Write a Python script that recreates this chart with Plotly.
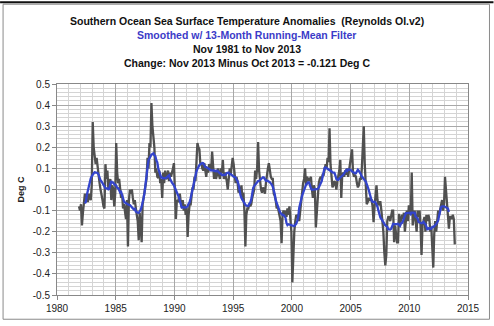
import numpy as np
import pandas as pd
import plotly.graph_objects as go

# Monthly Southern Ocean SST anomalies (deg C), Nov 1981 .. Nov 2013
sst_1981_1989 = [
    -0.08, -0.10,                                                                 # 1981 Nov-Dec
    -0.07, -0.17, -0.11, -0.06, -0.02, -0.05, -0.03, -0.06, -0.02, -0.04, -0.05, 0.02,   # 1982
    0.32, 0.20, 0.15, 0.12, 0.15, 0.10, 0.08, 0.03, 0.00, -0.02, -0.05, -0.08,     # 1983
    -0.09, 0.12, 0.05, 0.09, 0.00, 0.03, 0.05, -0.05, 0.02, 0.00, -0.08, -0.02,    # 1984
    0.22, 0.08, 0.03, 0.05, 0.00, -0.04, -0.02, -0.09, -0.07, -0.10, -0.14, -0.05, # 1985
    -0.27, -0.05, 0.00, -0.02, 0.00, -0.04, -0.07, -0.05, -0.10, -0.12, -0.15, -0.24,  # 1986
    -0.11, -0.20, -0.25, -0.07, -0.03, -0.01, 0.02, 0.05, 0.15, 0.10, 0.22, 0.20,  # 1987
    0.41, 0.30, 0.26, 0.20, 0.08, 0.10, 0.06, 0.055, 0.09, 0.03, 0.05, -0.04,      # 1988
    0.08, 0.03, 0.09, 0.05, 0.055, 0.09, 0.04, 0.08, 0.06, 0.09, 0.10, 0.125,      # 1989
]
sst_1990_1999 = [
    -0.015, -0.14, -0.05, -0.06, -0.04, -0.02, -0.06, -0.085, -0.05, -0.10, -0.07, -0.12,  # 1990
    -0.085, -0.225, -0.12, -0.07, -0.075, -0.03, 0.01, 0.00, 0.06, 0.04, 0.14, 0.22,      # 1991
    0.20, 0.19, 0.12, 0.125, 0.10, 0.09, 0.125, 0.087, 0.06, 0.10, 0.08, 0.12,           # 1992
    0.10, 0.09, 0.18, 0.09, 0.05, 0.09, 0.05, 0.07, 0.10, 0.07, 0.05, 0.10,              # 1993
    0.08, 0.14, 0.05, 0.08, 0.06, 0.04, 0.00, 0.05, 0.10, 0.07, 0.10, 0.15,              # 1994
    0.12, 0.086, 0.03, 0.06, 0.035, -0.015, 0.01, -0.015, 0.02, -0.05, -0.015, -0.10,    # 1995
    -0.27, -0.12, -0.09, -0.09, -0.07, -0.08, -0.07, -0.04, -0.02, 0.00, 0.09, 0.05,     # 1996
    0.10, 0.225, 0.09, 0.03, 0.00, -0.015, 0.01, 0.00, -0.02, 0.03, 0.08, 0.10,          # 1997
    0.125, 0.08, 0.06, 0.05, 0.05, -0.02, -0.03, -0.05, -0.09, -0.08, -0.10, -0.12,      # 1998
    -0.15, -0.255, -0.12, -0.10, -0.12, -0.10, -0.13, -0.09, -0.12, -0.08, -0.15, -0.20, # 1999
]
sst_2000_2009 = [
    -0.44, -0.29, -0.20, -0.15, -0.12, -0.13, -0.12, -0.15, -0.10, -0.06, 0.00, 0.03,    # 2000
    0.05, 0.10, 0.02, 0.06, 0.05, 0.04, 0.05, 0.06, 0.00, -0.04, 0.02, 0.00,             # 2001
    -0.18, -0.10, 0.00, 0.03, 0.05, 0.06, 0.05, 0.07, 0.07, 0.09, 0.12, 0.10,            # 2002
    0.15, 0.13, 0.29, 0.12, 0.06, 0.01, 0.02, 0.04, 0.03, 0.00, 0.04, 0.06,              # 2003
    0.09, 0.14, -0.04, 0.07, 0.08, 0.06, 0.09, 0.07, 0.10, 0.06, 0.09, 0.12,             # 2004
    0.17, 0.19, 0.08, 0.06, 0.07, 0.06, 0.03, 0.01, 0.02, 0.05, 0.05, 0.10,              # 2005
    0.20, 0.30, 0.12, 0.00, -0.07, -0.06, -0.04, -0.05, -0.05, -0.05, -0.08, -0.155,     # 2006
    -0.08, -0.02, 0.02, -0.05, -0.075, -0.06, -0.06, -0.10, -0.145, -0.20, -0.30, -0.36, # 2007
    -0.31, -0.15, -0.13, -0.13, -0.15, -0.12, -0.10, -0.10, -0.25, -0.17, -0.20, -0.25,  # 2008
    -0.25, -0.115, -0.17, -0.14, -0.12, -0.14, -0.11, -0.20, -0.13, -0.10, -0.15, -0.08, # 2009
]
sst_2010_2013 = [
    -0.08, -0.12, 0.08, -0.17, -0.12, -0.10, -0.15, -0.20, -0.10, -0.13, -0.10, -0.17,  # 2010
    -0.31, -0.17, -0.15, -0.13, -0.20, -0.12, -0.15, -0.12, -0.14, -0.20, -0.18, -0.25,  # 2011
    -0.37, -0.21, -0.15, -0.20, -0.12, -0.10, -0.12, -0.10, -0.08, -0.05, -0.10, -0.07,  # 2012
    0.06, 0.00, -0.06, -0.10, -0.185, -0.13, -0.13, -0.14, -0.12, -0.14, -0.26,         # 2013 Jan-Nov
]

start_year, start_month = 1981, 11
x_ticks = [1980, 1985, 1990, 1995, 2000, 2005, 2010, 2015]
y_ticks = [0.5, 0.4, 0.3, 0.2, 0.1, 0, -0.1, -0.2, -0.3, -0.4, -0.5]

title_lines = [
    "Southern Ocean Sea Surface Temperature Anomalies  (Reynolds OI.v2)",
    "Smoothed w/ 13-Month Running-Mean Filter",
    "Nov 1981 to Nov 2013",
    "Change: Nov 2013 Minus Oct 2013 = -0.121 Deg C",
]

values = np.array(sst_1981_1989 + sst_1990_1999 + sst_2000_2009 + sst_2010_2013)
idx = np.arange(len(values))
x = start_year + (start_month - 1 + idx + 0.5) / 12.0
smooth = pd.Series(values).rolling(13, center=True).mean().to_numpy()

fig = go.Figure()
fig.add_trace(go.Scatter(x=x, y=values, mode="lines",
                         line=dict(color="#505050", width=2.3), showlegend=False))
fig.add_trace(go.Scatter(x=x, y=smooth, mode="lines",
                         line=dict(color="#3344cc", width=2.3), showlegend=False))

W, H = 494, 326
L, R, T, B = 57, 25.5, 84.3, 26.7
pw, ph = W - L - R, H - T - B

def px(xp):
    return (xp - L) / pw

def py(yp):
    return (H - B - yp) / ph

font = "Liberation Sans"
fig.update_layout(
    width=W, height=H,
    margin=dict(l=L, r=R, t=T, b=B),
    paper_bgcolor="white", plot_bgcolor="white",
    font=dict(family=font, size=10, color="#222"),
    xaxis=dict(range=[1980, 2015], tickvals=x_ticks, ticktext=[str(v) for v in x_ticks],
               showgrid=True, gridcolor="#a8a8a8", gridwidth=1,
               minor=dict(dtick=1, tick0=1980, showgrid=True, gridcolor="#d4d4d4", gridwidth=1),
               showline=True, linecolor="#888", mirror=True, zeroline=False,
               ticks="outside", ticklen=4, tickcolor="#888",
               tickfont=dict(family=font, size=10, color="#222")),
    yaxis=dict(range=[-0.5, 0.5], tickvals=y_ticks, ticktext=[("0" if v == 0 else f"{v:.1f}") for v in y_ticks],
               showgrid=True, gridcolor="#a8a8a8", gridwidth=1,
               minor=dict(dtick=0.02, tick0=0, showgrid=True, gridcolor="#d4d4d4", gridwidth=1),
               showline=True, linecolor="#888", mirror=True, zeroline=False,
               ticks="outside", ticklen=4, tickcolor="#888",
               tickfont=dict(family=font, size=10, color="#222"),
               title=dict(text="<b>Deg C</b>", font=dict(family=font, size=9, color="#222"), standoff=6)),
)

title_y = [20, 34, 49, 63]
title_colors = ["#111", "#3b3bc8", "#111", "#111"]
for text, yp, col in zip(title_lines, title_y, title_colors):
    fig.add_annotation(text=f"<b>{text}</b>", xref="paper", yref="paper",
                       x=px(247), y=py(yp), xanchor="center", yanchor="middle",
                       showarrow=False, font=dict(family=font, size=10.5, color=col))

# chart-area frame
fig.add_shape(type="rect", xref="paper", yref="paper",
              x0=px(3), x1=px(490), y0=py(324), y1=py(3),
              line=dict(color="#8a8a8a", width=1), fillcolor="rgba(0,0,0,0)", layer="below")
fig.add_shape(type="line", xref="paper", yref="paper",
              x0=px(0), x1=px(494), y0=py(1), y1=py(1),
              line=dict(color="#111", width=2))

fig.write_html("out.html")
